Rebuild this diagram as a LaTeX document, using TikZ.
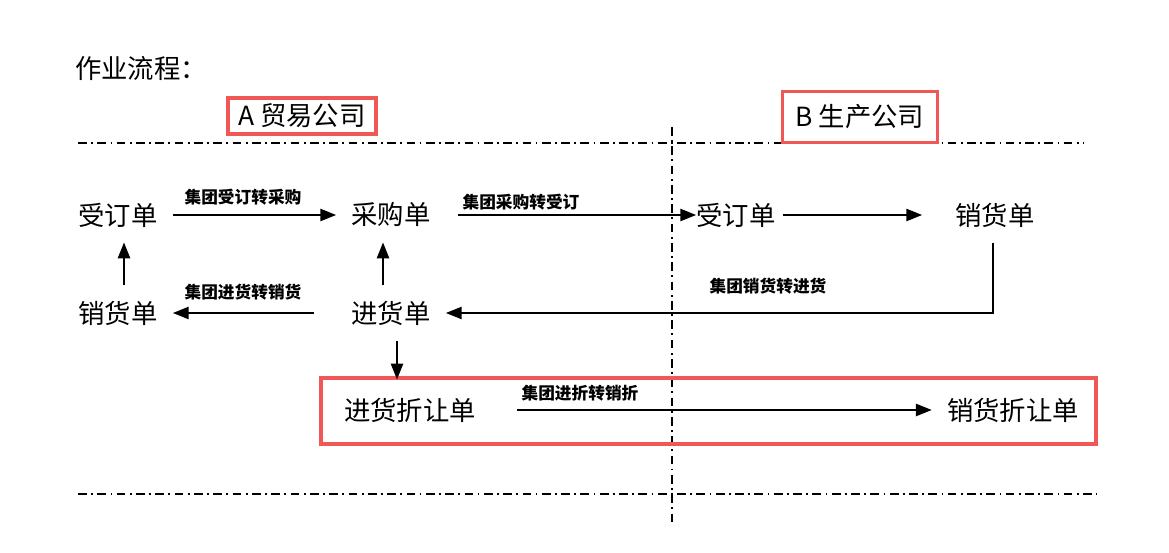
\documentclass[tikz,border=0pt]{standalone}
\usepackage{fontspec}
\setmainfont{Noto Sans CJK SC}
\usetikzlibrary{arrows.meta}

\definecolor{boxred}{HTML}{F25757}

\begin{document}
\begin{tikzpicture}[x=0.02cm, y=-0.02cm,
  doc/.style={inner sep=0.3cm, font=\fontsize{15}{18}\selectfont},
  lab/.style={inner sep=0pt, font=\fontsize{9.5}{11}\selectfont\bfseries},
  company/.style={draw=boxred, line width=2.2pt, fill=white, font=\fontsize{15}{18}\selectfont},
  flow/.style={thick, -{Triangle[length=9pt, width=7pt]}},
  lane/.style={line width=0.8pt, dash pattern=on 5pt off 2.5pt on 1pt off 2.5pt}]

\useasboundingbox (0,0) rectangle (1169,553);

% lanes
\coordinate (laneT1) at (78, 143);
\coordinate (laneT2) at (1083, 143);
\coordinate (laneB1) at (78, 494);
\coordinate (laneB2) at (1097, 494);
\coordinate (laneV1) at (672, 127);
\coordinate (laneV2) at (672, 522);
\draw[lane] (laneT1) -- (laneT2);
\draw[lane] (laneB1) -- (laneB2);
\draw[lane] (laneV1) -- (laneV2);

\node[font=\fontsize{15}{18}\selectfont] (title) at (141, 68) {作业流程：};
\node[company, minimum width=2.96cm, minimum height=0.72cm] (compA) at (302, 116) {A 贸易公司};
\node[company, minimum width=3.1cm, minimum height=1.02cm] (compB) at (860, 117) {B 生产公司};

\node[doc] (orderA) at (118, 215) {受订单};
\node[doc] (purchase) at (391, 215) {采购单};
\node[doc] (salesA) at (118, 313) {销货单};
\node[doc] (receipt) at (391, 313) {进货单};
\node[doc] (orderB) at (736, 215) {受订单};
\node[doc] (salesB) at (995, 215) {销货单};
\node[doc] (rdisc) at (410, 410) {进货折让单};
\node[doc] (sdisc) at (1013, 410) {销货折让单};

\draw[draw=boxred, line width=2.2pt] (321, 378) rectangle (1096, 444);

\draw[flow] (orderA) -- (purchase);
\draw[flow, shorten <=0.24cm] (purchase) -- ([xshift=0.3cm]orderB.west);
\draw[flow, shorten <=-0.16cm, shorten >=0.36cm] (orderB) -- (salesB);
\draw[flow] ([xshift=-0.04cm]salesB.south) |- (receipt.east);
\draw[flow, shorten <=0.44cm] (receipt) -- (salesA);
\draw[flow] ([xshift=0.12cm]salesA.north) -- ([xshift=0.12cm]orderA.south);
\draw[flow] ([xshift=-0.16cm]receipt.north) -- ([xshift=-0.16cm]purchase.south);
\draw[flow] ([xshift=0.12cm]receipt.south) -- ([xshift=0.12cm, yshift=0.06cm]rdisc.north -| receipt.south);
\draw[flow, shorten <=0.52cm] (rdisc) -- (sdisc);

\node[lab] (lab1) at (243, 197) {集团受订转采购};
\node[lab] (lab2) at (521, 202) {集团采购转受订};
\node[lab] (lab3) at (768, 286) {集团销货转进货};
\node[lab] (lab4) at (243, 292) {集团进货转销货};
\node[lab] (lab5) at (580, 393) {集团进折转销折};

\end{tikzpicture}
\end{document}
